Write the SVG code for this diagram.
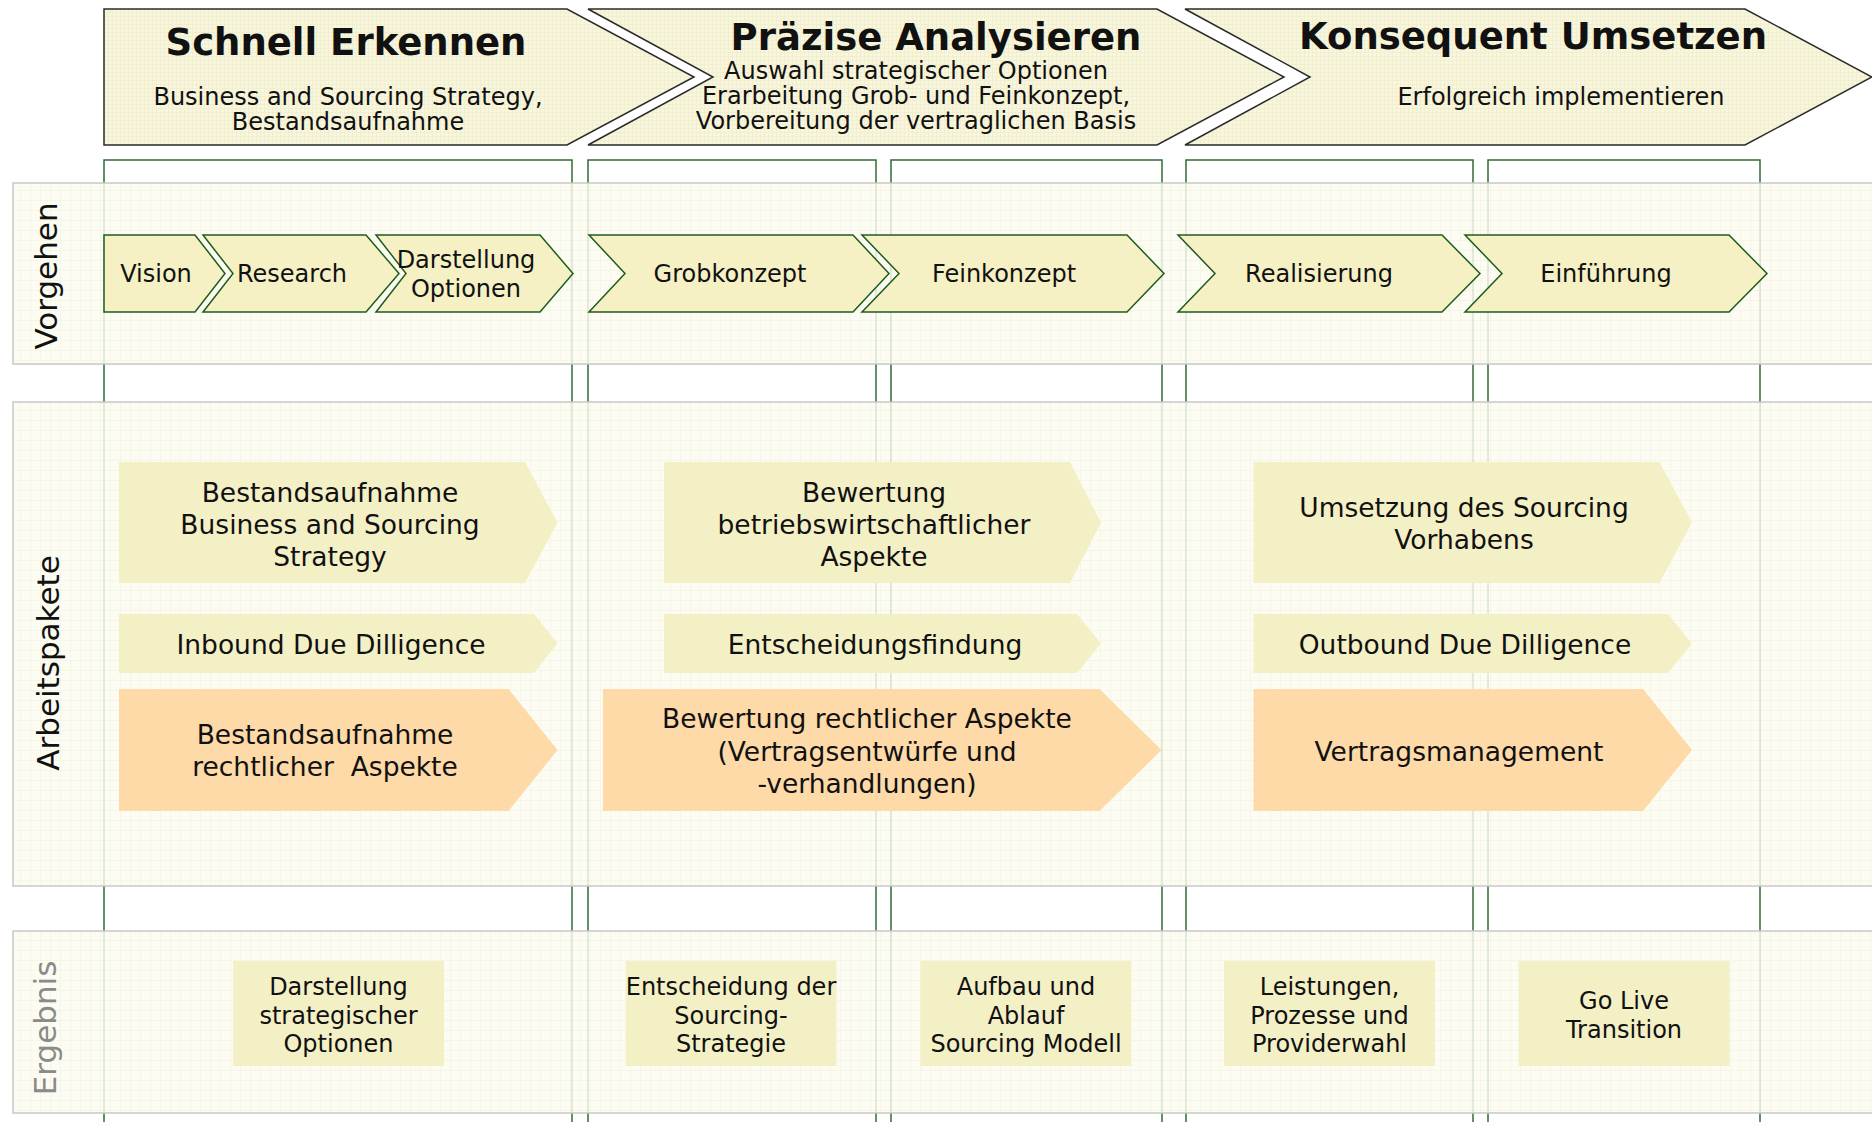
<svg xmlns="http://www.w3.org/2000/svg" width="1872" height="1122" viewBox="0 0 1872 1122">
<defs>
<pattern id="hgrid" width="4" height="4" patternUnits="userSpaceOnUse"><rect width="4" height="4" fill="#f8f7dd"/><path d="M0 0.5H4M0.5 0V4" stroke="#f1efd0" stroke-width="1"/></pattern>
<pattern id="bgrid" width="10" height="10" patternUnits="userSpaceOnUse"><rect width="10" height="10" fill="#fbfbf0"/><path d="M0 0.5H10M0.5 0V10" stroke="#f4f4e3" stroke-width="1"/></pattern>
<style>
text{font-family:"DejaVu Sans","Verdana",sans-serif;fill:#111;}
.t{font-size:37px;font-weight:bold;text-anchor:middle;}
.s{font-size:24px;text-anchor:middle;}
.w{font-size:26.5px;text-anchor:middle;}
.lane{font-size:31px;text-anchor:middle;}
.hdr{fill:url(#hgrid);stroke:#2a2a2a;stroke-width:1.5;}
.col{fill:none;stroke:#2f6b35;stroke-width:1.5;}
.band{fill:url(#bgrid);fill-opacity:0.84;stroke:#c8c8c8;stroke-width:1.5;}
.step{fill:#f5f1c5;stroke:#1e5c1e;stroke-width:1.5;}
.y{fill:#f4f0c6;}
.o{fill:#fddaa8;}
</style>
</defs>
<rect width="1872" height="1122" fill="#ffffff"/>

<g id="columns">
<rect class="col" x="104" y="160" width="468" height="980"/>
<rect class="col" x="588" y="160" width="288" height="980"/>
<rect class="col" x="891" y="160" width="271" height="980"/>
<rect class="col" x="1186" y="160" width="287" height="980"/>
<rect class="col" x="1488" y="160" width="272" height="980"/>
</g>

<g id="lanes">
<rect class="band" x="13" y="183" width="1870" height="181"/>
<rect class="band" x="13" y="402" width="1870" height="484"/>
<rect class="band" x="13" y="931" width="1870" height="182"/>
<text class="lane" transform="translate(57,276) rotate(-90)">Vorgehen</text>
<text class="lane" transform="translate(59,663) rotate(-90)">Arbeitspakete</text>
<text class="lane" transform="translate(56,1028) rotate(-90)" style="fill:#8a8a8a">Ergebnis</text>
</g>

<g id="phase1">
<polygon class="hdr" points="104,9 567,9 694,77 567,145 104,145"/>
<text class="t" x="346" y="55">Schnell Erkennen</text>
<text class="s" x="348" y="105">Business and Sourcing Strategy,</text>
<text class="s" x="348" y="130">Bestandsaufnahme</text>
</g>
<g id="phase2">
<polygon class="hdr" points="588,9 1157,9 1284,77 1157,145 588,145 713,77"/>
<text class="t" x="936" y="50">Präzise Analysieren</text>
<text class="s" x="916" y="79">Auswahl strategischer Optionen</text>
<text class="s" x="916" y="104">Erarbeitung Grob- und Feinkonzept,</text>
<text class="s" x="916" y="129">Vorbereitung der vertraglichen Basis</text>
</g>
<g id="phase3">
<polygon class="hdr" points="1185,9 1745,9 1872,77 1745,145 1185,145 1310,77"/>
<text class="t" x="1533" y="49">Konsequent Umsetzen</text>
<text class="s" x="1561" y="105">Erfolgreich implementieren</text>
</g>

<g id="step-vision">
<polygon class="step" points="104,235 195,235 225,273.5 195,312 104,312"/>
<text class="s" x="156" y="282">Vision</text>
</g>
<g id="step-research">
<polygon class="step" points="203,235 366,235 399,273.5 366,312 203,312 233,273.5"/>
<text class="s" x="292" y="282">Research</text>
</g>
<g id="step-darstellung">
<polygon class="step" points="376,235 540,235 573,273.5 540,312 376,312 406,273.5"/>
<text class="s" x="466" y="267.5">Darstellung</text>
<text class="s" x="466" y="296.5">Optionen</text>
</g>
<g id="step-grobkonzept">
<polygon class="step" points="589,235 853,235 889,273.5 853,312 589,312 625,273.5"/>
<text class="s" x="730" y="282">Grobkonzept</text>
</g>
<g id="step-feinkonzept">
<polygon class="step" points="862,235 1127,235 1164,273.5 1127,312 862,312 899,273.5"/>
<text class="s" x="1004" y="282">Feinkonzept</text>
</g>
<g id="step-realisierung">
<polygon class="step" points="1178,235 1442,235 1480,273.5 1442,312 1178,312 1215,273.5"/>
<text class="s" x="1319" y="282">Realisierung</text>
</g>
<g id="step-einfuehrung">
<polygon class="step" points="1465,235 1729,235 1767,273.5 1729,312 1465,312 1502,273.5"/>
<text class="s" x="1606" y="282">Einführung</text>
</g>

<g id="wp-bestand-bss">
<polygon class="y" points="119,462 525,462 557.5,522.5 525,583 119,583"/>
<text class="w" x="330" y="501.5">Bestandsaufnahme</text>
<text class="w" x="330" y="533.5">Business and Sourcing</text>
<text class="w" x="330" y="565.5">Strategy</text>
</g>
<g id="wp-bewertung-bw">
<polygon class="y" points="664,462 1070,462 1101,522.5 1070,583 664,583"/>
<text class="w" x="874" y="501.5">Bewertung</text>
<text class="w" x="874" y="533.5">betriebswirtschaftlicher</text>
<text class="w" x="874" y="565.5">Aspekte</text>
</g>
<g id="wp-umsetzung">
<polygon class="y" points="1253.5,462 1659.5,462 1692,522.5 1659.5,583 1253.5,583"/>
<text class="w" x="1464" y="517">Umsetzung des Sourcing</text>
<text class="w" x="1464" y="549">Vorhabens</text>
</g>
<g id="wp-inbound">
<polygon class="y" points="119,614 534,614 557.5,643.5 534,673 119,673"/>
<text class="w" x="331" y="654">Inbound Due Dilligence</text>
</g>
<g id="wp-entscheidung">
<polygon class="y" points="664,614 1077,614 1101,643.5 1077,673 664,673"/>
<text class="w" x="875" y="654">Entscheidungsfindung</text>
</g>
<g id="wp-outbound">
<polygon class="y" points="1253.5,614 1668,614 1692,643.5 1668,673 1253.5,673"/>
<text class="w" x="1465" y="654">Outbound Due Dilligence</text>
</g>
<g id="wp-bestand-recht">
<polygon class="o" points="119,689 508.5,689 557.5,750 508.5,811 119,811"/>
<text class="w" x="325" y="743.5">Bestandsaufnahme</text>
<text class="w" x="325" y="776" xml:space="preserve">rechtlicher  Aspekte</text>
</g>
<g id="wp-bewertung-recht">
<polygon class="o" points="603,689 1099.5,689 1161.5,750 1099.5,811 603,811"/>
<text class="w" x="867" y="728">Bewertung rechtlicher Aspekte</text>
<text class="w" x="867" y="760.5">(Vertragsentwürfe und</text>
<text class="w" x="867" y="792.5">-verhandlungen)</text>
</g>
<g id="wp-vertrag">
<polygon class="o" points="1253.5,689 1643,689 1692,750 1643,811 1253.5,811"/>
<text class="w" x="1459" y="760.5">Vertragsmanagement</text>
</g>

<g id="res-optionen">
<rect class="y" x="233" y="961" width="211" height="105"/>
<text class="s" x="338.5" y="994.6">Darstellung</text>
<text class="s" x="338.5" y="1023.6">strategischer</text>
<text class="s" x="338.5" y="1052">Optionen</text>
</g>
<g id="res-strategie">
<rect class="y" x="625.5" y="961" width="211" height="105"/>
<text class="s" x="731" y="994.6">Entscheidung der</text>
<text class="s" x="731" y="1023.6">Sourcing-</text>
<text class="s" x="731" y="1052">Strategie</text>
</g>
<g id="res-modell">
<rect class="y" x="920.5" y="961" width="211" height="105"/>
<text class="s" x="1026" y="994.6">Aufbau und</text>
<text class="s" x="1026" y="1023.6">Ablauf</text>
<text class="s" x="1026" y="1052">Sourcing Modell</text>
</g>
<g id="res-provider">
<rect class="y" x="1224" y="961" width="211" height="105"/>
<text class="s" x="1329.5" y="994.6">Leistungen,</text>
<text class="s" x="1329.5" y="1023.6">Prozesse und</text>
<text class="s" x="1329.5" y="1052">Providerwahl</text>
</g>
<g id="res-golive">
<rect class="y" x="1518.5" y="961" width="211" height="105"/>
<text class="s" x="1624" y="1009">Go Live</text>
<text class="s" x="1624" y="1037.5">Transition</text>
</g>

<g id="connectors"></g>
</svg>
